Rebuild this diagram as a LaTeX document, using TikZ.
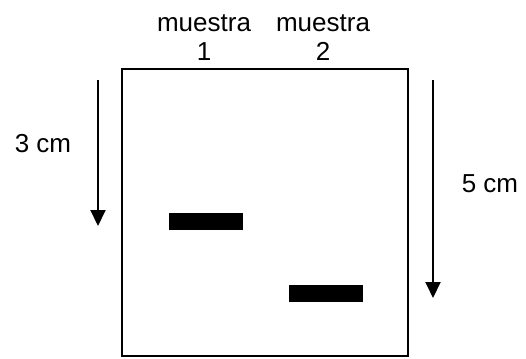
\documentclass[tikz,border=0pt]{standalone}
\usepackage{fontspec}
\setmainfont{Liberation Sans}
\usetikzlibrary{arrows.meta}
\begin{document}
\begin{tikzpicture}[x=1pt,y=-1pt,
  lbl/.style={font=\fontsize{26}{29}\selectfont, inner sep=0pt, align=center},
  band/.style={fill=black, draw=none},
  gel/.style={draw=black, line width=2pt},
  arr/.style={line width=2pt, -{Triangle[width=15pt,length=16pt]}}]
\useasboundingbox (0,0) rectangle (526,358);
\node[gel, minimum width=286pt, minimum height=287pt, inner sep=0pt] (gelbox) at (264.5,212.5) {};
\node[band, minimum width=74pt, minimum height=17pt, inner sep=0pt] (b1) at (206,221.5) {};
\node[band, minimum width=74pt, minimum height=17pt, inner sep=0pt] (b2) at (326,293.5) {};
\node[lbl, anchor=base] (m1) at (204,61) {muestra\\1};
\node[lbl, anchor=base] (m2) at (323,61) {muestra\\2};
\coordinate (a1s) at (98,80);
\coordinate (a1e) at (98,226);
\coordinate (a2s) at (433,80);
\coordinate (a2e) at (433,298);
\draw[arr] (a1s) -- (a1e);
\draw[arr] (a2s) -- (a2e);
\node[lbl, anchor=base] (t3) at (43,152) {3 cm};
\node[lbl, anchor=base] (t5) at (490,192) {5 cm};
\end{tikzpicture}
\end{document}
